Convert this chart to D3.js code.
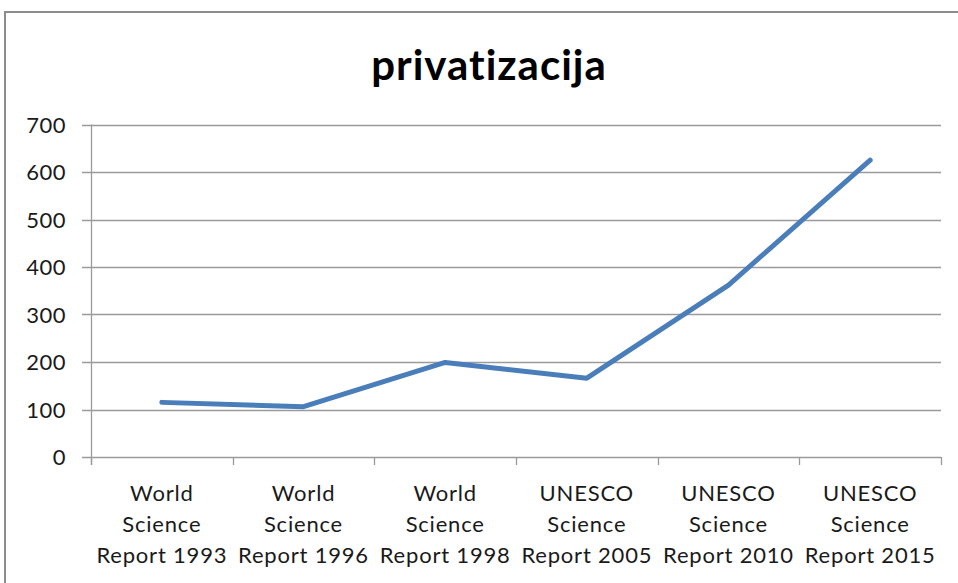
<!DOCTYPE html>
<html>
<head>
<meta charset="utf-8">
<script src="https://cdn.jsdelivr.net/npm/d3@7"></script>
<style>
  body { margin: 0; background: #fff; }
  svg { display: block; font-family: Lato, "Open Sans", sans-serif; }
</style>
</head>
<body>
<svg width="958" height="583"></svg>
<script>
// podaci
var title = "privatizacija";
var categories = [
  ["World", "Science", "Report 1993"],
  ["World", "Science", "Report 1996"],
  ["World", "Science", "Report 1998"],
  ["UNESCO", "Science", "Report 2005"],
  ["UNESCO", "Science", "Report 2010"],
  ["UNESCO", "Science", "Report 2015"]
];
var values = [115, 106, 199, 166, 362, 625];
var yTicks = [0, 100, 200, 300, 400, 500, 600, 700];

var svg = d3.select("svg"),
    width = +svg.attr("width"),
    height = +svg.attr("height");

var margin = {left: 91, right: 17, top: 124.5, bottom: 126};

// okvir
svg.append("rect")
  .attr("x", 5).attr("y", 12)
  .attr("width", 980).attr("height", 600)
  .attr("fill", "none")
  .attr("stroke", "#8c8c8c")
  .attr("stroke-width", 2);

svg.append("text")
  .attr("x", 489).attr("y", 80)
  .attr("text-anchor", "middle")
  .style("font-size", "42px")
  .style("font-weight", "bold")
  .style("letter-spacing", "1px")
  .text(title);

var x = d3.scaleBand()
  .domain(d3.range(categories.length))
  .range([margin.left, width - margin.right])
  .padding(0);

var y = d3.scaleLinear()
  .domain([0, 700])
  .range([height - margin.bottom, margin.top]);

// mreza
svg.append("g")
  .selectAll("line")
  .data(yTicks)
  .enter().append("line")
  .attr("x1", margin.left - 9)
  .attr("x2", width - margin.right)
  .attr("y1", function(d) { return Math.round(y(d)) + 0.5; })
  .attr("y2", function(d) { return Math.round(y(d)) + 0.5; })
  .attr("stroke", "#9a9a9a")
  .attr("stroke-width", 1.3);

// y labele
svg.append("g")
  .selectAll("text")
  .data(yTicks)
  .enter().append("text")
  .attr("x", 66)
  .attr("y", function(d) { return y(d) + 8; })
  .attr("text-anchor", "end")
  .style("font-size", "22px")
  .style("letter-spacing", "0.5px")
  .attr("fill", "#1a1a1a")
  .text(function(d) { return d; });

// y osa
svg.append("line")
  .attr("x1", margin.left + 0.5).attr("x2", margin.left + 0.5)
  .attr("y1", y(700)).attr("y2", y(0) + 8)
  .attr("stroke", "#9a9a9a").attr("stroke-width", 1.3);

// x tickovi
var xEdges = d3.range(categories.length + 1).map(function(i) {
  return i < categories.length ? x(i) : x(i - 1) + x.bandwidth();
});
svg.append("g")
  .selectAll("line")
  .data(xEdges)
  .enter().append("line")
  .attr("x1", function(d) { return Math.round(d) + 0.5; })
  .attr("x2", function(d) { return Math.round(d) + 0.5; })
  .attr("y1", y(0)).attr("y2", y(0) + 8)
  .attr("stroke", "#9a9a9a").attr("stroke-width", 1.3);

// x labele
var xl = svg.append("g")
  .selectAll("text")
  .data(categories)
  .enter().append("text")
  .attr("text-anchor", "middle")
  .style("font-size", "22px")
  .style("letter-spacing", "0.8px")
  .attr("fill", "#1a1a1a");
xl.each(function(d, i) {
  var t = d3.select(this);
  d.forEach(function(line, j) {
    t.append("tspan")
      .attr("x", x(i) + x.bandwidth() / 2)
      .attr("y", 501 + j * 31)
      .text(line);
  });
});

// linija
var line = d3.line()
  .x(function(d, i) { return x(i) + x.bandwidth() / 2; })
  .y(function(d) { return y(d); });

svg.append("path")
  .datum(values)
  .attr("d", line)
  .attr("fill", "none")
  .attr("stroke", "#4a7ebb")
  .attr("stroke-width", 5)
  .attr("stroke-linecap", "round")
  .attr("stroke-linejoin", "round");
</script>
</body>
</html>
